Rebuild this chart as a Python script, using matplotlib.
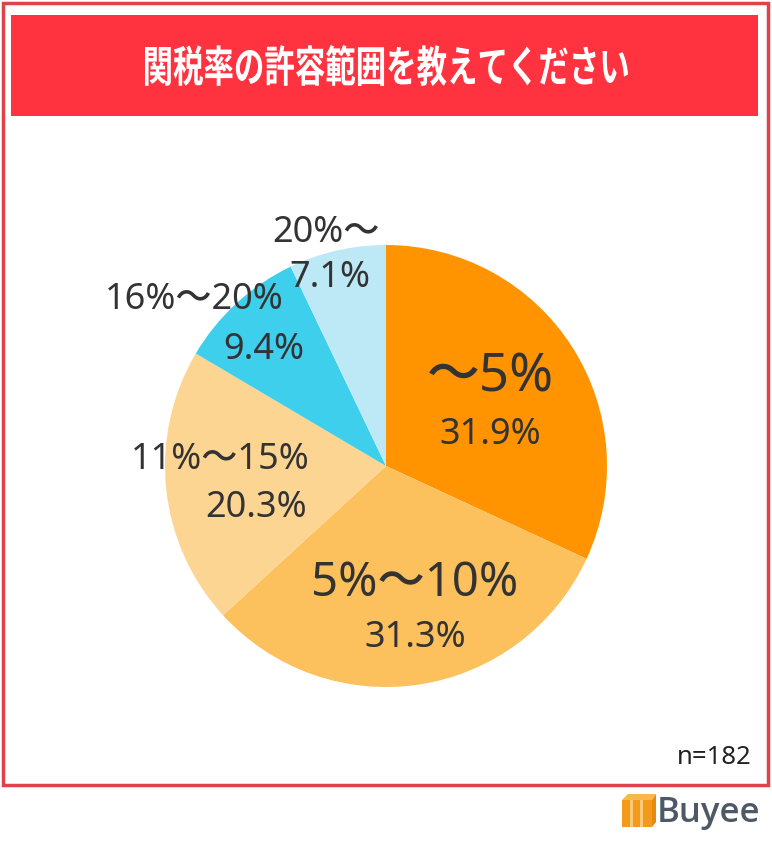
import matplotlib.pyplot as plt
from matplotlib.patches import Rectangle, Polygon, PathPatch
from matplotlib.textpath import TextPath
from matplotlib.font_manager import FontProperties
from matplotlib.transforms import Affine2D

plt.rcParams['font.family'] = ['Noto Sans', 'Noto Sans CJK JP', 'DejaVu Sans']

# data
labels = ["～5%", "5%～10%", "11%～15%", "16%～20%", "20%～"]
values = [31.9, 31.3, 20.3, 9.4, 7.1]
colors = ["#ff9400", "#fcc05c", "#fdd592", "#3dcfec", "#bde9f6"]
title = "関税率の許容範囲を教えてください"
n_note = "n=182"

W, H = 772, 848


def Y(y):
    # pixel row -> data y
    return H - y


fig = plt.figure(figsize=(W / 100, H / 100), dpi=100)
ax = fig.add_axes([0, 0, 1, 1])

# pie
ax.pie(values, colors=colors, startangle=90, counterclock=False,
       center=(386, Y(466)), radius=221, frame=True,
       wedgeprops=dict(linewidth=0))
ax.set_xlim(0, W)
ax.set_ylim(0, H)
ax.axis("off")

# outer frame
ax.add_patch(Rectangle((2.5, Y(785)), 765, 782, fill=False, ec="#e0424a", lw=2.5))
# title bar
ax.add_patch(Rectangle((11, Y(116)), 747, 101, color="#ff333f", lw=0))

# title drawn as a condensed path (box: x 145-628, rows 45-86)
tp = TextPath((0, 0), title, size=10,
              prop=FontProperties(family="Noto Sans CJK JP", weight="bold"))
bb = tp.get_extents()
sx = 483 / bb.width
sy = 41 / bb.height
tr = Affine2D().translate(-bb.x0, -bb.y0).scale(sx, sy).translate(145, Y(86))
ax.add_patch(PathPatch(tr.transform_path(tp), color="white", lw=0))

txt = "#333333"
# (name pos, name size, pct pos, pct size)
lab_pos = [
    ((490, 378), 38, (490, 435), 26),
    ((415, 583), 34, (415, 638), 26),
    ((220, 460), 26, (256, 508), 26),
    ((194, 300), 26, (264, 350), 26),
    ((326, 233), 26, (330, 278), 26),
]
for lab, val, (p1, s1, p2, s2) in zip(labels, values, lab_pos):
    ax.text(p1[0], Y(p1[1]), lab, fontsize=s1, color=txt, ha="center", va="center",
            fontweight="medium")
    ax.text(p2[0], Y(p2[1]), f"{val}%", fontsize=s2, color=txt, ha="center", va="center",
            fontweight="medium")

ax.text(752, Y(757), n_note, fontsize=18.5, color="#222222", ha="right", va="center")

# logo
ax.add_patch(Rectangle((622, Y(827)), 30, 27, color="#f39a1c", lw=0))
ax.add_patch(Polygon([(622, Y(800)), (628, Y(794)), (656, Y(794)), (652, Y(800))],
                     color="#f8b84a", lw=0))
ax.add_patch(Polygon([(652, Y(800)), (656, Y(794)), (656, Y(822)), (652, Y(827))],
                     color="#e68a10", lw=0))
ax.add_patch(Rectangle((630, Y(827)), 3, 27, color="#fbc877", lw=0))
ax.add_patch(Rectangle((640, Y(827)), 3, 27, color="#fbc877", lw=0))
ax.text(657, Y(813), "Buyee", fontsize=25, color="#4d5966",
        family="Open Sans", fontweight="semibold", ha="left", va="center")

fig.savefig("out.png", dpi=100)
